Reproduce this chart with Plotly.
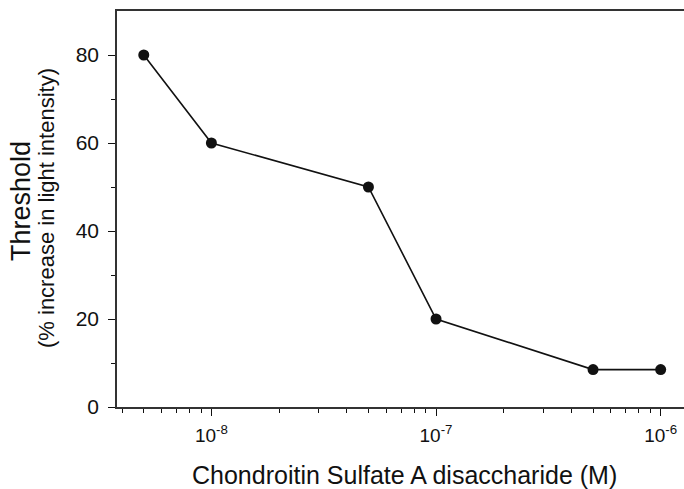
import math
import plotly.graph_objects as go

# ---- data ----
concentration = [5e-9, 1e-8, 5e-8, 1e-7, 5e-7, 1e-6]
threshold = [80, 60, 50, 20, 8.5, 8.5]

x_major = [1e-8, 1e-7, 1e-6]
x_major_text = ["10<sup>-8</sup>", "10<sup>-7</sup>", "10<sup>-6</sup>"]
x_minor = [4e-9, 5e-9, 6e-9, 7e-9, 8e-9, 9e-9,
           2e-8, 3e-8, 4e-8, 5e-8, 6e-8, 7e-8, 8e-8, 9e-8,
           2e-7, 3e-7, 4e-7, 5e-7, 6e-7, 7e-7, 8e-7, 9e-7]
y_major = [0, 20, 40, 60, 80]
y_major_text = ["0", "20", "40", "60", "80"]
y_minor = [10, 30, 50, 70]

x_title = "Chondroitin Sulfate A disaccharide (M)"
y_title = "Threshold"
y_subtitle = "(% increase in light intensity)"

# ---- layout geometry ----
W, H = 684, 489
L, R, T, B = 117, 0, 11, 82
FONT = "Liberation Sans, Arial, sans-serif"
INK = "#111111"


def pxx(px):
    return (px - L) / (W - L - R)


def pxy(py):
    return (H - B - py) / (H - T - B)


fig = go.Figure()
fig.add_trace(go.Scatter(
    x=concentration, y=threshold, mode="lines+markers",
    line=dict(color=INK, width=1.6),
    marker=dict(color=INK, size=11),
    showlegend=False, cliponaxis=False,
))

fig.update_layout(
    width=W, height=H,
    margin=dict(l=L, r=R, t=T, b=B),
    paper_bgcolor="white", plot_bgcolor="white",
    font=dict(family=FONT, color=INK),
    xaxis=dict(
        type="log", range=[math.log10(3.8e-9), math.log10(1.27e-6)],
        tickmode="array", tickvals=x_major, ticktext=x_major_text,
        ticks="outside", ticklen=7, tickwidth=1.3, tickcolor=INK,
        showline=True, linecolor="#333333", linewidth=1.5, mirror=True,
        showgrid=False, zeroline=False,
        tickfont=dict(size=19, family=FONT, color=INK),
        ticklabelstandoff=3,
        minor=dict(tickmode="array", tickvals=x_minor, ticks="outside",
                   ticklen=4, tickwidth=1, tickcolor=INK, showgrid=False),
    ),
    yaxis=dict(
        range=[0, 90],
        tickmode="array", tickvals=y_major, ticktext=y_major_text,
        ticks="outside", ticklen=7, tickwidth=1.3, tickcolor=INK,
        showline=True, linecolor="#333333", linewidth=1.5,
        showgrid=False, zeroline=False,
        tickfont=dict(size=21, family=FONT, color=INK),
        ticklabelstandoff=5,
        minor=dict(tickmode="array", tickvals=y_minor, ticks="outside",
                   ticklen=4, tickwidth=1, tickcolor=INK, showgrid=False),
    ),
    annotations=[
        dict(text=x_title, xref="paper", yref="paper",
             x=pxx(404), y=pxy(475), xanchor="center", yanchor="middle",
             showarrow=False, font=dict(size=25, family=FONT, color=INK)),
        dict(text=y_title, xref="paper", yref="paper",
             x=pxx(21), y=pxy(201), xanchor="center", yanchor="middle",
             textangle=-90, showarrow=False,
             font=dict(size=27, family=FONT, color=INK)),
        dict(text=y_subtitle, xref="paper", yref="paper",
             x=pxx(46), y=pxy(208), xanchor="center", yanchor="middle",
             textangle=-90, showarrow=False,
             font=dict(size=22, family=FONT, color=INK)),
    ],
)

fig.write_html("out.html")
